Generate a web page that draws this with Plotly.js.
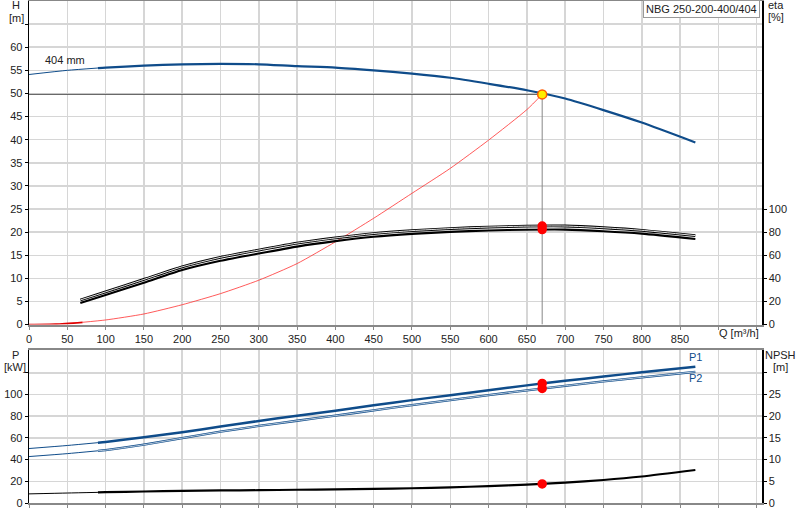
<!DOCTYPE html>
<html>
<head>
<meta charset="utf-8">
<script src="https://cdn.plot.ly/plotly-3.0.1.min.js"></script>
<style>
  body { margin: 0; background: #fff; }
  #chart { width: 800px; height: 520px; }
</style>
</head>
<body>
<div id="chart"></div>
<script>
// flow points (m3/h) and curves
var qH = [0, 50, 90, 100, 150, 200, 250, 300, 350, 400, 450, 500, 550, 600, 650, 700, 750, 800, 870];
var head = [54.1, 55.0, 55.5, 55.6, 56.0, 56.3, 56.4, 56.3, 55.9, 55.6, 55.0, 54.3, 53.4, 52.1, 50.7, 48.9, 46.4, 43.7, 39.4];

var qEta = [67, 100, 150, 200, 250, 300, 350, 400, 450, 500, 550, 600, 650, 700, 750, 800, 870];
var eta1 = [21.3, 28.3, 39.1, 50, 58.2, 64.5, 70.5, 75, 78.8, 81.3, 83.1, 84.4, 85.2, 85.3, 83.8, 81.6, 77.0];
var eta2 = [18.6, 25.6, 36.2, 47.2, 55.2, 61.5, 67.5, 72.2, 76, 78.5, 80.2, 81.4, 82.1, 82.2, 80.8, 78.7, 74.1];

var qSys = [0, 35, 70, 100, 150, 200, 250, 300, 350, 400, 450, 500, 550, 600, 650, 670];
var sysH = [0, 0.1, 0.5, 1.0, 2.3, 4.3, 6.7, 9.6, 13.2, 17.9, 23.0, 28.4, 33.8, 39.9, 46.5, 49.8];

var qP = qH;
var p1 = [50.2, 53.0, 55.6, 56.3, 60.5, 65.2, 70.5, 75.6, 80.4, 85.1, 90.0, 94.8, 99.4, 104.0, 108.4, 112.6, 116.6, 120.4, 125.5];
var p2 = [42.8, 45.5, 48.1, 48.7, 53.7, 59.8, 65.7, 71.0, 75.8, 80.5, 85.4, 90.2, 94.8, 99.4, 103.8, 108.0, 112.0, 115.8, 120.9];
var npsh = [2.1, 2.3, 2.45, 2.5, 2.65, 2.8, 2.9, 2.95, 3.05, 3.15, 3.25, 3.4, 3.6, 3.9, 4.25, 4.7, 5.3, 6.1, 7.6];

// duty point
var dutyQ = 670;
var dutyH = 49.8;
var dutyEta = [85.3, 82.2];
var dutyP = [110.2, 105.6];
var dutyNpsh = 4.4;

var qTicks = [0, 50, 100, 150, 200, 250, 300, 350, 400, 450, 500, 550, 600, 650, 700, 750, 800, 850, 900, 950];
var hTicks = [0, 5, 10, 15, 20, 25, 30, 35, 40, 45, 50, 55, 60, 65];
var etaTicks = [0, 20, 40, 60, 80, 100];
var pTicks = [0, 20, 40, 60, 80, 100, 120];
var npshTicks = [0, 5, 10, 15, 20, 25, 30];

var blue = '#0f4c8a';
var split = 2; // curves are thin below ~90 m3/h

function line(x, y, color, width, xa, ya) {
  return { x: x, y: y, mode: 'lines', line: { color: color, width: width, shape: 'spline', smoothing: 0.6 },
           xaxis: xa, yaxis: ya, hoverinfo: 'skip' };
}
function dots(x, y, ya, xa, size, fill, edge) {
  return { x: x, y: y, mode: 'markers', xaxis: xa, yaxis: ya, hoverinfo: 'skip',
           marker: { size: size, color: fill, line: { color: edge || fill, width: 1.5 } } };
}

var data = [
  // duty lines
  { x: [0, dutyQ], y: [dutyH, dutyH], mode: 'lines', line: { color: '#555', width: 1 }, xaxis: 'x', yaxis: 'y' },
  { x: [dutyQ, dutyQ], y: [0, dutyH], mode: 'lines', line: { color: '#888', width: 1 }, xaxis: 'x', yaxis: 'y' },
  // system curve
  line(qSys.slice(0, 3), sysH.slice(0, 3), '#e00000', 1.8, 'x', 'y'),
  line(qSys.slice(2), sysH.slice(2), '#ff3030', 0.8, 'x', 'y'),
  // pump curve
  line(qH.slice(0, split + 1), head.slice(0, split + 1), blue, 1.0, 'x', 'y'),
  line(qH.slice(split), head.slice(split), blue, 2.2, 'x', 'y'),
  // efficiency
  line(qEta, eta1, '#000', 2.8, 'x', 'y2'),
  line(qEta, eta1, '#fff', 0.9, 'x', 'y2'),
  line(qEta, eta2, '#000', 2.1, 'x', 'y2'),
  dots([dutyQ, dutyQ], dutyEta, 'y2', 'x', 8, '#ff0000'),
  dots([dutyQ], [dutyH], 'y', 'x', 9, '#ffee00', '#ff5a00'),
  // power
  line(qP.slice(0, split + 1), p1.slice(0, split + 1), blue, 1.0, 'x2', 'y3'),
  line(qP.slice(split), p1.slice(split), blue, 2.5, 'x2', 'y3'),
  line(qP.slice(0, split + 1), p2.slice(0, split + 1), blue, 1.0, 'x2', 'y3'),
  line(qP.slice(split), p2.slice(split), blue, 2.3, 'x2', 'y3'),
  line(qP.slice(split), p2.slice(split), '#fff', 0.7, 'x2', 'y3'),
  // NPSH
  line(qP.slice(0, split + 1), npsh.slice(0, split + 1), '#000', 1.0, 'x2', 'y4'),
  line(qP.slice(split), npsh.slice(split), '#000', 2.2, 'x2', 'y4'),
  dots([dutyQ, dutyQ], dutyP, 'y3', 'x2', 8, '#ff0000'),
  dots([dutyQ], [dutyNpsh], 'y4', 'x2', 8, '#ff0000')
];

function lbl(vals, last) {
  return vals.map(function (v, i) { return i < vals.length - last ? String(v) : ''; });
}

var font = { family: 'Liberation Sans, Arial, sans-serif', size: 11, color: '#222' };
var gridC = '#d6d6d6';

var xCommon = {
  range: [0, 957], tickmode: 'array', tickvals: qTicks, ticks: 'outside', ticklen: 3, tickcolor: '#888',
  showgrid: true, gridcolor: gridC, gridwidth: 1.5, zeroline: false,
  showline: true, linecolor: '#888', linewidth: 2, mirror: true
};

var yLeft = { ticks: 'outside', ticklen: 3, tickcolor: '#000', showline: true, linecolor: '#000', linewidth: 1.3,
              zeroline: false, showgrid: true, gridcolor: gridC, gridwidth: 1.5, tickmode: 'array' };
var yRight = { ticks: 'outside', ticklen: 3, tickcolor: '#000', showline: true, linecolor: '#000', linewidth: 1.5,
               zeroline: false, showgrid: false, side: 'right', tickmode: 'array' };

var L = 29, R = 38, T = 1, B = 17, W = 800, Hh = 520;
function px(x) { return (x - L) / (W - L - R); }
function py(y) { return (Hh - B - y) / (Hh - B - T); }

var layout = {
  width: W, height: Hh,
  margin: { l: L, r: R, t: T, b: B, pad: 0 },
  paper_bgcolor: '#fff', plot_bgcolor: '#fff',
  font: font, showlegend: false,
  xaxis: Object.assign({}, xCommon, { anchor: 'y', ticktext: lbl(qTicks, 2) }),
  yaxis: Object.assign({}, yLeft, { domain: [py(324.6), 1], range: [0, 70], tickvals: hTicks, ticktext: lbl(hTicks, 1) }),
  yaxis2: Object.assign({}, yRight, { overlaying: 'y', anchor: 'x', range: [0, 280], tickvals: etaTicks }),
  xaxis2: Object.assign({}, xCommon, { anchor: 'y3', showticklabels: false }),
  yaxis3: Object.assign({}, yLeft, { domain: [0, py(350)], range: [0, 141], tickvals: pTicks, ticktext: lbl(pTicks, 1) }),
  yaxis4: Object.assign({}, yRight, { overlaying: 'y3', anchor: 'x2', range: [0, 35.25], tickvals: npshTicks, ticktext: lbl(npshTicks, 1) }),
  annotations: [
    { text: 'H', x: px(16), y: py(5) },
    { text: '[m]', x: px(16), y: py(18) },
    { text: 'eta', x: px(776), y: py(5) },
    { text: '[%]', x: px(776), y: py(17) },
    { text: 'Q [m³/h]', x: px(739), y: py(333) },
    { text: '404 mm', x: px(65), y: py(60) },
    { text: 'P', x: px(15), y: py(355) },
    { text: '[kW]', x: px(15), y: py(367) },
    { text: 'NPSH', x: px(780), y: py(355) },
    { text: '[m]', x: px(780), y: py(367) },
    { text: 'P1', x: px(695), y: py(357), font: { color: blue, size: 11, family: font.family } },
    { text: 'P2', x: px(695), y: py(378), font: { color: blue, size: 11, family: font.family } },
    { text: 'NBG 250-200-400/404', x: px(760), y: py(9.5), xanchor: 'right', bordercolor: '#999', borderwidth: 1,
      borderpad: 2, bgcolor: '#fff' }
  ].map(function (a) {
    return Object.assign({ xref: 'paper', yref: 'paper', showarrow: false, xanchor: 'center', yanchor: 'middle' }, a);
  })
};

Plotly.newPlot('chart', data, layout, { displayModeBar: false, staticPlot: true });
</script>
</body>
</html>
